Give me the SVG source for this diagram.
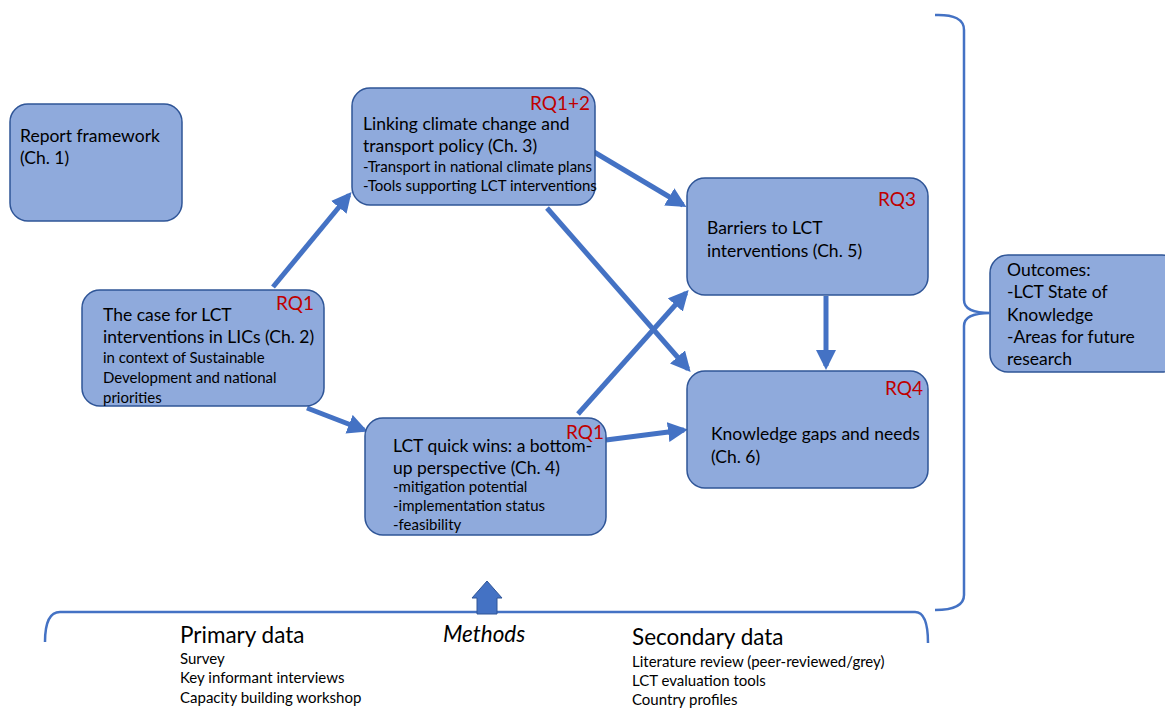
<svg xmlns="http://www.w3.org/2000/svg" width="1165" height="708" viewBox="0 0 1165 708">
<style>
.box{fill:#8FAADC;stroke:#2F5597;stroke-width:1.5}
text{font-family:Lato,"Liberation Sans",sans-serif;fill:#000}
.t{font-size:17.5px}
.s{font-size:15px}
.rq{font-size:19px;fill:#C00000}
.big{font-size:22.5px}
.con{stroke:#4472C4;stroke-width:5;fill:none;marker-end:url(#ah)}
.br{stroke:#4472C4;stroke-width:2.5;fill:none}
</style>
<defs>
<marker id="ah" markerWidth="4" markerHeight="4" refX="3.2" refY="2" orient="auto" markerUnits="strokeWidth">
<path d="M0,0 L4,2 L0,4 z" fill="#4472C4"/>
</marker>
</defs>
<g id="connectors">
<line class="con" x1="273" y1="287" x2="349" y2="195"/>
<line class="con" x1="307" y1="408" x2="364" y2="430"/>
<line class="con" x1="594" y1="152" x2="683" y2="205"/>
<line class="con" x1="547" y1="208" x2="688" y2="369"/>
<line class="con" x1="578" y1="414" x2="686" y2="293"/>
<line class="con" x1="606" y1="440" x2="684" y2="430"/>
<line class="con" x1="826" y1="296" x2="826" y2="366"/>
</g>
<g id="n1">
<rect class="box" x="10" y="104" width="172" height="117" rx="18"/>
<text class="t" x="20" y="142">Report framework</text>
<text class="t" x="20" y="164">(Ch. 1)</text>
</g>
<g id="n2">
<rect class="box" x="82" y="290" width="242" height="116" rx="18"/>
<text class="rq" x="276" y="310">RQ1</text>
<text class="t" x="103" y="321">The case for LCT</text>
<text class="t" x="103" y="343">interventions in LICs (Ch. 2)</text>
<text class="s" x="103" y="363">in context of Sustainable</text>
<text class="s" x="103" y="383">Development and national</text>
<text class="s" x="103" y="403">priorities</text>
</g>
<g id="n3">
<rect class="box" x="352" y="88" width="243" height="117" rx="18"/>
<text class="rq" x="530" y="110">RQ1+2</text>
<text class="t" x="363" y="130">Linking climate change and</text>
<text class="t" x="363" y="152">transport policy (Ch. 3)</text>
<text class="s" x="363" y="172">-Transport in national climate plans</text>
<text class="s" x="363" y="191">-Tools supporting LCT interventions</text>
</g>
<g id="n4">
<rect class="box" x="365" y="418" width="241" height="117" rx="18"/>
<text class="rq" x="566" y="439">RQ1</text>
<text class="t" x="393" y="452">LCT quick wins: a bottom-</text>
<text class="t" x="393" y="474">up perspective (Ch. 4)</text>
<text class="s" x="393" y="492">-mitigation potential</text>
<text class="s" x="393" y="511">-implementation status</text>
<text class="s" x="393" y="530">-feasibility</text>
</g>
<g id="n5">
<rect class="box" x="687" y="178" width="241" height="117" rx="18"/>
<text class="rq" x="878" y="206">RQ3</text>
<text class="t" x="707" y="234">Barriers to LCT</text>
<text class="t" x="707" y="257">interventions (Ch. 5)</text>
</g>
<g id="n6">
<rect class="box" x="687" y="371" width="241" height="117" rx="18"/>
<text class="rq" x="885" y="395">RQ4</text>
<text class="t" x="711" y="440">Knowledge gaps and needs</text>
<text class="t" x="711" y="463">(Ch. 6)</text>
</g>
<g id="outcomes">
<rect class="box" x="990" y="255" width="190" height="117" rx="18"/>
<text class="t" x="1007" y="276">Outcomes:</text>
<text class="t" x="1007" y="298">-LCT State of</text>
<text class="t" x="1007" y="321">Knowledge</text>
<text class="t" x="1007" y="343">-Areas for future</text>
<text class="t" x="1007" y="365">research</text>
</g>
<g id="brackets">
<path class="br" d="M935,15 Q964,14 964,30 L964,300 Q964,313 990,313 Q964,313 964,326 L964,595 Q964,610 935,610"/>
<path class="br" d="M45,642 Q45,612 60,612 L915,612 Q928,612 928,643"/>
</g>
<g id="methods">
<path d="M477,614 L477,598 L472,598 L487,581 L502,598 L497,598 L497,614 z" fill="#4472C4" stroke="#2F5597" stroke-width="1"/>
<text class="big" x="443" y="642" font-style="italic" font-size="23.5px">Methods</text>
<text class="big" x="180" y="643">Primary data</text>
<text class="s" x="180" y="664">Survey</text>
<text class="s" x="180" y="683">Key informant interviews</text>
<text class="s" x="180" y="703">Capacity building workshop</text>
<text class="big" x="632" y="645">Secondary data</text>
<text class="s" x="632" y="667">Literature review (peer-reviewed/grey)</text>
<text class="s" x="632" y="686">LCT evaluation tools</text>
<text class="s" x="632" y="705">Country profiles</text>
</g>
</svg>
